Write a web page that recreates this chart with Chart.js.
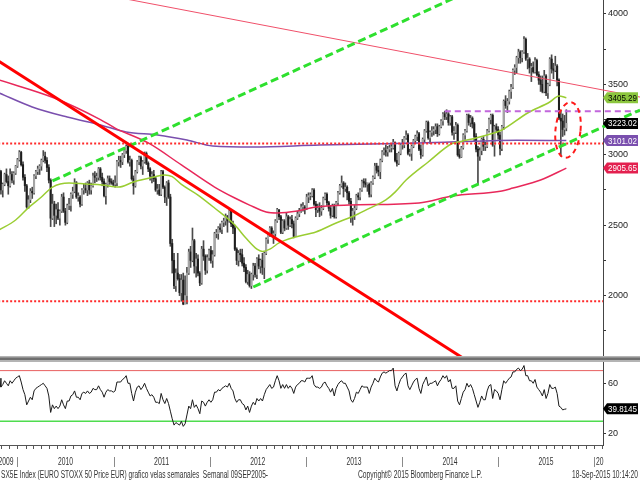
<!DOCTYPE html>
<html>
<head>
<meta charset="utf-8">
<title>SX5E Index</title>
<script src="https://cdn.jsdelivr.net/npm/chart.js@4.4.1/dist/chart.umd.min.js"></script>
<style>
  html, body { margin: 0; padding: 0; background: #fff; }
  #wrap { position: relative; width: 640px; height: 480px; overflow: hidden; background: #fff; }
  canvas { position: absolute; left: 0; display: block; }
  #price { top: 0; }
  #rsi { top: 356px; }
</style>
</head>
<body>
<div id="wrap">
  <canvas id="price" width="640" height="356"></canvas>
  <canvas id="rsi" width="640" height="124"></canvas>
</div>
<script>
// ---------- DATA (weekly bars; index 0 = week ending 2009-10-23) ----------
const firstWeek = '2009-10-23';

const opens = [
2900,2880,2750,2790,2860,2810,2780,2860,2820,2870,
2920,2965,3017,2930,2840,2780,2630,2680,2740,2730,
2850,2880,2900,2920,2960,2990,2960,2910,2820,2550,
2650,2570,2610,2550,2600,2700,2600,2520,2640,2640,
2720,2740,2800,2700,2700,2650,2750,2760,2750,2800,
2750,2780,2850,2840,2840,2900,2840,2810,2710,2790,
2830,2810,2800,2790,2800,2950,2960,2950,3000,3030,
3060,2950,2960,2830,2780,2880,2950,2980,2920,2950,
3010,2940,2900,2850,2860,2830,2750,2750,2720,2880,
2770,2700,2800,2700,2370,2250,2070,2160,2120,2020,
2110,1940,2000,2160,2310,2250,2390,2210,2260,2160,
2090,2330,2280,2180,2270,2320,2250,2290,2440,2440,
2480,2470,2520,2530,2560,2530,2600,2510,2480,2330,
2250,2300,2290,2230,2200,2100,2150,2070,2150,2210,
2150,2260,2210,2250,2200,2300,2400,2430,2480,2430,
2440,2530,2610,2560,2450,2530,2480,2560,2500,2540,
2510,2420,2550,2580,2600,2630,2630,2620,2700,2710,
2710,2750,2650,2610,2620,2600,2620,2690,2720,2660,
2620,2570,2640,2560,2660,2730,2780,2800,2760,2770,
2730,2670,2560,2600,2620,2710,2700,2750,2810,2800,
2790,2790,2720,2800,2840,2920,2890,2880,2960,3020,
3030,3020,3040,3050,3050,3090,2960,2940,3010,3070,
3070,3120,3140,3010,3010,3060,3100,3130,3150,3040,
3000,3110,3170,3230,3120,3160,3170,3180,3200,3150,
3200,3240,3290,3270,3290,3230,3270,3160,3160,3210,
3000,2985,3050,3140,3170,3280,3230,3260,3220,3130,
3040,2990,3030,3110,3060,3060,3170,3250,3280,3070,
3200,3180,3140,3045,3200,3380,3350,3380,3450,3480,
3600,3620,3690,3730,3690,3730,3820,3680,3680,3620,
3620,3590,3670,3570,3530,3500,3450,3560,3440,3500,
3680,3610,3600,3630,3530,3260,3240,3180,3190];

const highs = [
2935,2890,2800,2870,2900,2850,2900,2880,2880,2925,
2975,3030,3025,2950,2860,2790,2710,2760,2770,2860,
2890,2920,2930,2970,3030,3020,2980,2930,2830,2720,
2670,2650,2660,2610,2720,2730,2620,2650,2690,2730,
2770,2830,2810,2730,2710,2760,2790,2800,2810,2820,
2800,2870,2880,2870,2910,2910,2870,2830,2800,2850,
2850,2830,2820,2850,2960,2990,2990,3010,3040,3070,
3070,2990,2970,2850,2890,2960,2990,2990,2960,3020,
3020,2950,2910,2880,2890,2840,2790,2790,2890,2890,
2780,2810,2820,2720,2400,2300,2190,2300,2150,2150,
2160,2140,2200,2330,2350,2480,2400,2300,2290,2170,
2350,2390,2290,2290,2330,2350,2320,2450,2470,2490,
2510,2530,2550,2580,2570,2610,2610,2530,2500,2340,
2320,2330,2330,2270,2220,2180,2170,2160,2230,2230,
2270,2290,2260,2300,2310,2410,2440,2490,2490,2460,
2540,2620,2610,2570,2540,2540,2590,2570,2560,2570,
2530,2560,2600,2620,2650,2660,2640,2720,2730,2730,
2760,2760,2670,2650,2660,2640,2700,2730,2730,2670,
2640,2650,2650,2670,2740,2790,2850,2810,2800,2780,
2740,2690,2620,2640,2720,2730,2760,2820,2830,2830,
2800,2800,2810,2850,2940,2940,2920,2970,3030,3050,
3070,3060,3070,3080,3110,3090,3010,3020,3080,3110,
3130,3170,3150,3040,3070,3110,3140,3170,3160,3070,
3120,3180,3240,3240,3170,3200,3200,3220,3220,3210,
3250,3300,3310,3320,3300,3280,3280,3200,3230,3220,
3040,3060,3150,3180,3290,3290,3280,3270,3230,3150,
3060,3050,3120,3130,3090,3180,3260,3290,3290,3210,
3220,3200,3160,3210,3390,3420,3400,3460,3500,3610,
3640,3700,3750,3740,3740,3840,3830,3720,3690,3650,
3660,3690,3680,3590,3560,3560,3600,3570,3510,3690,
3710,3650,3700,3640,3540,3310,3290,3280,3320];

const lows = [
2860,2720,2700,2780,2800,2720,2770,2800,2790,2860,
2910,2955,2920,2820,2740,2620,2620,2660,2690,2720,
2830,2860,2860,2890,2950,2940,2880,2800,2490,2540,
2490,2510,2540,2500,2590,2590,2500,2510,2610,2600,
2690,2730,2690,2670,2630,2640,2720,2730,2710,2720,
2720,2770,2800,2810,2820,2820,2780,2700,2650,2770,
2790,2790,2780,2770,2780,2920,2910,2930,2980,3010,
2940,2920,2820,2720,2770,2870,2930,2900,2860,2940,
2930,2880,2820,2800,2810,2740,2720,2710,2710,2760,
2660,2640,2690,2350,2160,2050,2030,2110,2000,1960,
1935,1940,1940,2150,2200,2240,2160,2130,2140,2070,
2080,2250,2150,2160,2250,2230,2200,2280,2410,2400,
2450,2440,2490,2500,2450,2520,2490,2440,2320,2220,
2210,2240,2210,2170,2090,2080,2060,2050,2110,2130,
2120,2190,2160,2150,2120,2290,2370,2420,2420,2370,
2420,2520,2540,2440,2440,2460,2470,2470,2490,2480,
2410,2420,2540,2560,2590,2600,2580,2610,2660,2680,
2700,2640,2560,2590,2560,2570,2610,2680,2640,2600,
2550,2560,2550,2550,2640,2720,2770,2700,2740,2680,
2650,2520,2500,2540,2610,2680,2680,2740,2770,2770,
2740,2700,2700,2790,2830,2870,2850,2830,2950,3000,
2990,2990,3020,3020,3040,2950,2920,2930,3000,3040,
3050,3110,3000,2990,2960,3050,3080,3100,3030,2975,
2990,3090,3160,3110,3080,3130,3140,3150,3130,3140,
3190,3210,3250,3250,3210,3210,3140,3110,3150,2990,
2975,2980,3040,3110,3160,3210,3200,3190,3100,3020,
2790,2960,3000,3030,3030,3050,3160,3220,3060,2990,
3160,3110,3000,3030,3180,3330,3300,3360,3400,3470,
3570,3580,3650,3650,3660,3720,3670,3610,3580,3520,
3580,3580,3560,3500,3450,3440,3440,3420,3400,3490,
3580,3540,3590,3490,3250,2990,3130,3140,3170];

const closes = [
2880,2750,2790,2860,2810,2780,2860,2820,2870,2920,
2965,3017,2930,2840,2780,2630,2680,2740,2730,2850,
2880,2900,2920,2960,2990,2960,2910,2820,2550,2650,
2570,2610,2550,2600,2700,2600,2520,2640,2640,2720,
2740,2800,2700,2700,2650,2750,2760,2750,2800,2750,
2780,2850,2840,2840,2900,2840,2810,2710,2790,2830,
2810,2800,2790,2800,2950,2960,2950,3000,3030,3060,
2950,2960,2830,2780,2880,2950,2980,2920,2950,3010,
2940,2900,2850,2860,2830,2750,2750,2720,2880,2770,
2700,2800,2700,2370,2250,2070,2160,2120,2020,2110,
1940,2000,2160,2310,2250,2390,2210,2260,2160,2090,
2330,2280,2180,2270,2320,2250,2290,2440,2440,2480,
2470,2520,2530,2560,2530,2600,2510,2480,2330,2250,
2300,2290,2230,2200,2100,2150,2070,2150,2210,2150,
2260,2210,2250,2200,2300,2400,2430,2480,2430,2440,
2530,2610,2560,2450,2530,2480,2560,2500,2540,2510,
2420,2550,2580,2600,2630,2630,2620,2700,2710,2710,
2750,2650,2610,2620,2600,2620,2690,2720,2660,2620,
2570,2640,2560,2660,2730,2780,2800,2760,2770,2730,
2670,2560,2600,2620,2710,2700,2750,2810,2800,2790,
2790,2720,2800,2840,2920,2890,2880,2960,3020,3030,
3020,3040,3050,3050,3090,2960,2940,3010,3070,3070,
3120,3140,3010,3010,3060,3100,3130,3150,3040,3000,
3110,3170,3230,3120,3160,3170,3180,3200,3150,3200,
3240,3290,3270,3290,3230,3270,3160,3160,3210,3000,
2985,3050,3140,3170,3280,3230,3260,3220,3130,3040,
2990,3030,3110,3060,3060,3170,3250,3280,3070,3200,
3180,3140,3045,3200,3380,3350,3380,3450,3480,3600,
3620,3690,3730,3690,3730,3820,3680,3680,3620,3620,
3590,3670,3570,3530,3500,3450,3560,3440,3500,3680,
3610,3600,3630,3530,3260,3240,3180,3190,3223.02];

// RSI (weekly)
const rsi = [
64,57,59,62,60,58,62,60,62,64,
65,66,61,55,51,43,46,49,47,54,
56,57,58,59,60,58,56,50,37,43,
40,42,40,42,47,43,40,46,46,50,
51,54,49,49,47,52,53,52,54,52,
53,56,55,55,58,55,53,49,53,55,
54,54,53,54,61,61,61,63,64,66,
60,60,52,46,53,57,58,55,57,60,
56,53,50,51,49,45,45,44,52,47,
44,48,44,38,32,27,29,28,27,30,
26,28,35,42,40,47,41,43,40,36,
46,45,42,45,47,45,47,53,53,55,
54,56,57,58,57,60,56,54,48,45,
47,47,44,43,39,42,37,42,45,43,
48,46,48,46,51,55,57,59,56,57,
62,66,62,56,59,56,59,56,58,56,
52,57,59,60,62,62,61,64,64,64,
66,59,57,57,56,57,60,61,58,56,
53,56,50,56,59,61,62,60,60,57,
54,47,45,48,53,52,55,58,57,57,
57,52,57,60,64,62,61,65,68,69,
68,69,70,70,72,58,54,59,63,65,
67,68,58,55,58,61,63,64,56,52,
59,62,65,58,60,60,61,62,58,61,
63,66,64,66,61,63,56,56,58,46,
43,48,53,55,60,57,59,56,51,46,
41,45,50,47,47,54,58,59,48,55,
54,52,47,55,62,60,62,64,65,69,
69,71,72,70,71,74,66,66,62,62,
60,63,57,55,53,50,55,48,52,59,
56,56,57,52,42,41,39,39.5,39.8145];
const rsiUpper = 70, rsiLower = 30;

// Moving averages (week index, value)
const maGreenWeeks  = [0,9,16,23,29,38,47,56,65,73,84,90,94,99,108,117,128,134,140,143,147,152,161,172,183,192,201,210,215,221,233,246,251,265,273,287,299,304,308];
const maGreenValues = [2466,2537,2625,2700,2771,2800,2793,2786,2771,2807,2842,2857,2845,2790,2714,2622,2501,2409,2330,2314,2330,2374,2416,2452,2516,2562,2620,2679,2735,2821,2949,3080,3095,3141,3176,3297,3375,3418,3405.29];
const maRedWeeks    = [0,30,55,63,81,99,117,128,136,145,151,162,172,190,228,246,273,279,294,308];
const maRedValues   = [3531,3403,3250,3190,3084,2928,2771,2693,2643,2594,2587,2601,2629,2643,2658,2707,2743,2764,2821,2905.65];
const maPurpleWeeks = [0,18,37,55,69,86,102,116,138,174,228,281,308];
const maPurpleValues= [3439,3340,3268,3212,3162,3141,3105,3062,3055,3070,3084,3104,3101.02];

// Drawn trend lines (week index, value)
const thinResistance = [[70, 4104], [348, 3410]];
const thickDowntrend = [[0, 3663], [252, 1555]];
const channelUpper   = [[29, 2814], [250, 4131]];
const channelLower   = [[138, 2061], [348, 3318]];
const resistanceDash = [[242, 3310], [348, 3310]];
const supportLevels  = [3080, 1960];
const focusPoint     = [308.9, 3176];   // dashed ellipse centre

// Axis labels
const priceTicks  = [1750, 2000, 2250, 2500, 2750, 3000, 3250, 3500, 3750, 4000];
const priceLabels = [2000, 2500, 3000, 3500, 4000];
const rsiTicks    = [20, 40, 60];
const yearLabels  = ['2009','2010','2011','2012','2013','2014','2015','2016'];
const footerLeft  = 'SX5E Index (EURO STOXX 50 Price EUR) grafico velas semanales  Semanal 09SEP2005-';
const footerMid   = 'Copyright\u00A9 2015 Bloomberg Finance L.P.';
const footerRight = '18-Sep-2015 10:14:20';

// ---------- helpers ----------
const FONT = '"Liberation Sans Narrow", "Liberation Sans", Arial, sans-serif';
const X_MIN = 0.5, X_MAX = 327.9;
const DAY = 86400000;
const t0 = Date.parse(firstWeek + 'T00:00:00Z');
function weekOf(y, m) { return (Date.UTC(y, m, 1) - t0) / (7 * DAY); }
const pts = (xs, ys) => xs.map((x, i) => ({ x: x, y: ys[i] }));
const seg = a => a.map(p => ({ x: p[0], y: p[1] }));

function drawTag(ctx, left, yPix, text, bg, fg) {
  const h = 11, x0 = left + 2, x1 = 638;
  ctx.save();
  ctx.fillStyle = bg;
  ctx.beginPath();
  ctx.moveTo(left, yPix);
  ctx.lineTo(x0 + 2, yPix - h / 2);
  ctx.lineTo(x1, yPix - h / 2);
  ctx.lineTo(x1, yPix + h / 2);
  ctx.lineTo(x0 + 2, yPix + h / 2);
  ctx.closePath();
  ctx.fill();
  ctx.fillStyle = fg;
  ctx.font = '9px ' + FONT;
  ctx.textAlign = 'center';
  ctx.textBaseline = 'middle';
  ctx.fillText(text, (x0 + x1) / 2 + 1, yPix + 0.5, x1 - x0 - 4);
  ctx.restore();
}

Chart.defaults.font.family = FONT;

// ---------- price chart ----------
const priceOverlay = {
  id: 'priceOverlay',
  afterDatasetsDraw(chart) {
    const { ctx, chartArea, scales: { x, y } } = chart;
    ctx.save();
    ctx.beginPath();
    ctx.rect(chartArea.left, chartArea.top, chartArea.right - chartArea.left + 40, chartArea.bottom - chartArea.top);
    ctx.clip();
    ctx.strokeStyle = '#ff1a1a';
    ctx.lineWidth = 2;
    ctx.setLineDash([5, 4]);
    ctx.beginPath();
    ctx.ellipse(x.getPixelForValue(focusPoint[0]), y.getPixelForValue(focusPoint[1]), 12.5, 28, 0.11, 0, Math.PI * 2);
    ctx.stroke();
    ctx.restore();

    const L = chartArea.right;
    const g = maGreenValues[maGreenValues.length - 1];
    const c = closes[closes.length - 1];
    const p = maPurpleValues[maPurpleValues.length - 1];
    const r = maRedValues[maRedValues.length - 1];
    drawTag(ctx, L, y.getPixelForValue(g), g.toFixed(2), '#8cc63e', '#000');
    drawTag(ctx, L, y.getPixelForValue(c), c.toFixed(2), '#000', '#fff');
    drawTag(ctx, L, y.getPixelForValue(p), p.toFixed(2), '#7a4fae', '#fff');
    drawTag(ctx, L, y.getPixelForValue(r), r.toFixed(2), '#e3204f', '#fff');
  }
};

const overflowRight = { left: 0, top: 0, right: 40, bottom: 0 };
const lineBase = { type: 'line', pointRadius: 0, fill: false, tension: 0 };

new Chart(document.getElementById('price'), {
  type: 'line',
  data: {
    datasets: [
      Object.assign({}, lineBase, { data: seg(thickDowntrend), borderColor: '#ff0000', borderWidth: 3, order: 1 }),
      Object.assign({}, lineBase, { data: seg(channelUpper), borderColor: '#2ee02e', borderWidth: 3, borderDash: [8, 4], order: 1 }),
      Object.assign({}, lineBase, { data: seg(channelLower), borderColor: '#2ee02e', borderWidth: 3, borderDash: [8, 4], order: 1, clip: overflowRight }),
      Object.assign({}, lineBase, { data: seg(thinResistance), borderColor: '#f0506a', borderWidth: 1, order: 1, clip: overflowRight }),
      Object.assign({}, lineBase, { data: seg(resistanceDash), borderColor: '#c267dc', borderWidth: 2, borderDash: [6, 4], order: 1, clip: overflowRight }),
      Object.assign({}, lineBase, { data: [{ x: X_MIN - 1, y: supportLevels[0] }, { x: X_MAX, y: supportLevels[0] }], borderColor: '#ff2a2a', borderWidth: 2, borderDash: [2, 2], order: 2 }),
      Object.assign({}, lineBase, { data: [{ x: X_MIN - 1, y: supportLevels[1] }, { x: X_MAX, y: supportLevels[1] }], borderColor: '#ff2a2a', borderWidth: 2, borderDash: [2, 2], order: 2 }),
      Object.assign({}, lineBase, { data: pts(maGreenWeeks, maGreenValues), borderColor: '#9acd32', borderWidth: 1.5, cubicInterpolationMode: 'monotone', order: 3 }),
      Object.assign({}, lineBase, { data: pts(maRedWeeks, maRedValues), borderColor: '#e8285a', borderWidth: 1.5, cubicInterpolationMode: 'monotone', order: 3 }),
      Object.assign({}, lineBase, { data: pts(maPurpleWeeks, maPurpleValues), borderColor: '#7a4fae', borderWidth: 1.5, cubicInterpolationMode: 'monotone', order: 3 }),
      {
        type: 'bar', order: 5, grouped: false, barThickness: 1.4, minBarLength: 1,
        data: opens.map((o, i) => ({ x: i, y: [o, closes[i]] })),
        backgroundColor: opens.map((o, i) => closes[i] >= o ? '#a6a6a6' : '#1e1e1e')
      },
      {
        type: 'bar', order: 6, grouped: false, barThickness: 1,
        data: highs.map((h, i) => ({ x: i, y: [lows[i], h] })),
        backgroundColor: '#4a4a4a'
      }
    ]
  },
  options: {
    responsive: false, animation: false, devicePixelRatio: 1, events: [],
    layout: { padding: 0 },
    plugins: { legend: { display: false }, tooltip: { enabled: false } },
    scales: {
      x: { type: 'linear', min: X_MIN, max: X_MAX, display: false, offset: false },
      y: {
        type: 'linear', position: 'right', min: 1571, max: 4099.4,
        afterBuildTicks: s => { s.ticks = priceTicks.map(v => ({ value: v })); },
        afterFit: s => { s.width = 37; s.paddingTop = 0; s.paddingBottom = 0; },
        grid: { drawOnChartArea: false, drawTicks: true, tickLength: 3, color: '#333' },
        border: { display: true, color: '#444', width: 1 },
        ticks: { autoSkip: false, padding: 2, color: '#222', font: { size: 9, family: FONT },
                 callback: v => priceLabels.includes(v) ? String(v) : '' }
      }
    }
  },
  plugins: [priceOverlay]
});

// ---------- RSI chart ----------
const rsiOverlay = {
  id: 'rsiOverlay',
  afterDraw(chart) {
    const { ctx, chartArea, scales: { x, y } } = chart;
    ctx.save();
    // separator band
    ctx.fillStyle = '#b4b4b4';
    ctx.fillRect(0, 0, 640, 6);
    ctx.fillStyle = '#6f6f6f';
    ctx.fillRect(0, 1.5, 640, 2.5);
    // bottom axis
    const b = chartArea.bottom;
    ctx.strokeStyle = '#555';
    ctx.lineWidth = 1;
    ctx.beginPath();
    ctx.moveTo(0, b + 0.5); ctx.lineTo(chartArea.right, b + 0.5);
    ctx.stroke();
    ctx.beginPath();
    for (let yr = 2009; yr <= 2016; yr++) {
      for (let m = 0; m < 12; m++) {
        const w = weekOf(yr, m);
        if (w < X_MIN || w > X_MAX) continue;
        const px = Math.round(x.getPixelForValue(w)) + 0.5;
        ctx.moveTo(px, b); ctx.lineTo(px, b + 4);
      }
    }
    ctx.stroke();
    // year separators and labels
    ctx.strokeStyle = '#8a8a8a';
    ctx.beginPath();
    for (let k = 1; k < yearLabels.length; k++) {
      const w = weekOf(Number(yearLabels[k]), 0);
      const px = Math.round(x.getPixelForValue(w)) + 0.5;
      ctx.moveTo(px, b + 12); ctx.lineTo(px, b + 22);
    }
    ctx.stroke();
    ctx.save();
    ctx.beginPath();
    ctx.rect(0, b, chartArea.right + 1, 20);
    ctx.clip();
    ctx.fillStyle = '#333';
    ctx.font = '10px ' + FONT;
    ctx.textBaseline = 'alphabetic';
    yearLabels.forEach((lab, k) => {
      const yr = Number(lab);
      const a = Math.max(weekOf(yr, 0), X_MIN), e = Math.min(weekOf(yr + 1, 0), X_MAX);
      const pa = x.getPixelForValue(a), pe = x.getPixelForValue(e);
      const tw = 15;
      if (pe - pa >= tw + 8) {
        ctx.textAlign = 'center';
        ctx.fillText(lab, (pa + pe) / 2, b + 20, tw);
      } else if (k === 0) {
        ctx.textAlign = 'right';
        ctx.fillText(lab, pe - 4, b + 20, tw);
      } else {
        ctx.textAlign = 'left';
        ctx.fillText(lab, pa + 2, b + 20, tw);
      }
    });
    ctx.restore();
    // footer
    ctx.fillStyle = '#333';
    ctx.font = '10px ' + FONT;
    ctx.textAlign = 'left';
    ctx.textBaseline = 'alphabetic';
    ctx.fillText(footerLeft, 1, 121.5, 267);
    ctx.fillText(footerMid, 358, 121.5, 124);
    ctx.fillText(footerRight, 572, 121.5, 66);
    ctx.restore();
    const last = rsi[rsi.length - 1];
    drawTag(ctx, chartArea.right, y.getPixelForValue(last), last.toFixed(4), '#000', '#fff');
  }
};

new Chart(document.getElementById('rsi'), {
  type: 'line',
  data: {
    datasets: [
      Object.assign({}, lineBase, { data: rsi.map((v, i) => ({ x: i, y: v })), borderColor: '#1a1a1a', borderWidth: 1, order: 1 }),
      Object.assign({}, lineBase, { data: [{ x: X_MIN - 1, y: rsiUpper }, { x: X_MAX + 1, y: rsiUpper }], borderColor: '#e86060', borderWidth: 1, order: 2 }),
      Object.assign({}, lineBase, { data: [{ x: X_MIN - 1, y: rsiLower }, { x: X_MAX + 1, y: rsiLower }], borderColor: '#4fdc4f', borderWidth: 1.5, order: 2 })
    ]
  },
  options: {
    responsive: false, animation: false, devicePixelRatio: 1, events: [],
    layout: { padding: { top: 6, bottom: 35, left: 0, right: 0 } },
    plugins: { legend: { display: false }, tooltip: { enabled: false } },
    scales: {
      x: { type: 'linear', min: X_MIN, max: X_MAX, display: false, offset: false },
      y: {
        type: 'linear', position: 'right', min: 11.3, max: 76.8,
        afterBuildTicks: s => { s.ticks = rsiTicks.map(v => ({ value: v })); },
        afterFit: s => { s.width = 37; s.paddingTop = 0; s.paddingBottom = 0; },
        grid: { drawOnChartArea: false, drawTicks: true, tickLength: 3, color: '#333' },
        border: { display: true, color: '#444', width: 1 },
        ticks: { autoSkip: false, padding: 2, color: '#222', font: { size: 9, family: FONT },
                 callback: v => String(v) }
      }
    }
  },
  plugins: [rsiOverlay]
});
</script>
</body>
</html>
